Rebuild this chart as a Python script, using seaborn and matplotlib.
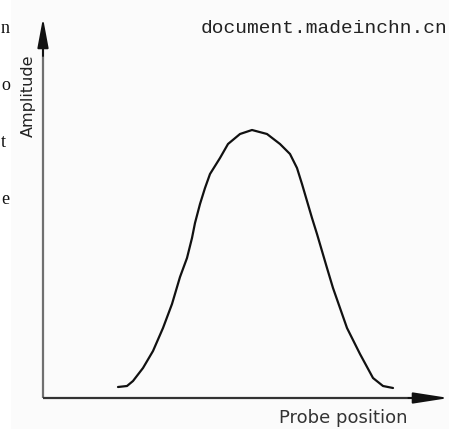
import numpy as np
import pandas as pd
import matplotlib
matplotlib.use("Agg")
import matplotlib.pyplot as plt
from matplotlib.patches import Rectangle
import seaborn as sns

# probe position vs amplitude
position = [75, 84, 90, 100, 110, 120, 129, 137, 144, 149, 152, 157, 162, 167, 177,
            185, 197, 209, 224, 237, 247, 254, 259, 264, 269, 274, 279, 284, 290,
            304, 317, 330, 340, 350]
amplitude = [11, 12, 17, 30, 47, 70, 94, 121, 140, 160, 175, 194, 210, 224, 240,
             254, 264, 268, 264, 254, 244, 230, 214, 197, 180, 164, 147, 130, 110,
             70, 44, 20, 12, 10]

x_label = "Probe position"
y_label = "Amplitude"
watermark = "document.madeinchn.cn"
# letters of the surrounding page text on the left edge
margin_letters = ["n", "o", "t", "e"]

df = pd.DataFrame({"position": position, "amplitude": amplitude})

sns.set_theme(style="white")
plt.rcParams["font.family"] = ["DejaVu Sans"]

W, H = 449, 429
fig = plt.figure(figsize=(W / 100, H / 100), dpi=100)
fig.patch.set_facecolor("white")
# slightly grey scan background right of the page margin
fig.patches.append(Rectangle((11 / W, 0), 1 - 11 / W, 1, transform=fig.transFigure,
                             facecolor="#fbfbfb", edgecolor="none", zorder=-5))

# axes origin at pixel (43, 398), y arrow tip at y=18, x arrow tip at right edge
ax = fig.add_axes([43 / W, (H - 398) / H, (W - 43) / W, (398 - 18) / H])
ax.set_facecolor("none")
sns.lineplot(data=df, x="position", y="amplitude", ax=ax, color="#111111",
             linewidth=1.6, sort=False)
ax.set_xlim(0, W - 43)
ax.set_ylim(0, 398 - 18)
ax.axis("off")

# axis lines with arrows
ax.plot([0, 0], [0, 0.96], transform=ax.transAxes, color="#707070", lw=1.6,
        clip_on=False, solid_capstyle="butt")
ax.annotate("", xy=(0, 1), xytext=(0, 0.9), xycoords="axes fraction",
            arrowprops=dict(arrowstyle="-|>,head_length=1.5,head_width=0.28",
                            color="#111111", lw=1.4, shrinkA=0, shrinkB=0))
ax.plot([0, 0.96], [0, 0], transform=ax.transAxes, color="#333333", lw=1.6,
        clip_on=False, solid_capstyle="butt")
ax.annotate("", xy=(1, 0), xytext=(0.9, 0), xycoords="axes fraction",
            arrowprops=dict(arrowstyle="-|>,head_length=1.8,head_width=0.28",
                            color="#111111", lw=1.4, shrinkA=0, shrinkB=0))

# labels
fig.text(28 / W, 1 - 96 / H, y_label, rotation=90, ha="center", va="center",
         fontsize=11.5, color="#222222")
fig.text(343 / W, 1 - 423 / H, x_label, ha="center", va="baseline",
         fontsize=13, color="#333333")
fig.text(447 / W, 1 - 33 / H, watermark, ha="right", va="baseline",
         fontsize=14, color="#222222", family="Liberation Mono")

for i, ch in enumerate(margin_letters):
    fig.text(1 / W, 1 - (33 + 57 * i) / H, ch, ha="left", va="baseline",
             fontsize=13, color="#111111", family="Liberation Serif")

fig.savefig("out.png", dpi=100)
